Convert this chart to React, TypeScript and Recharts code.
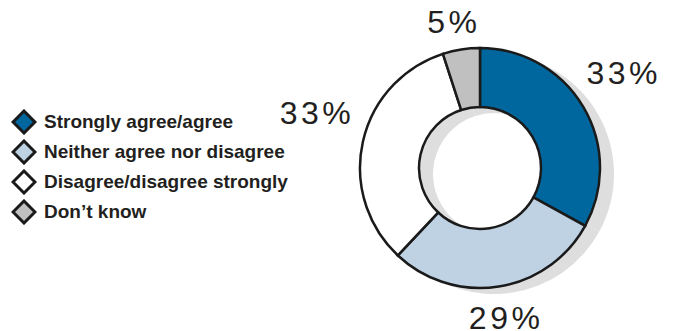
import { PieChart, Pie, Cell } from 'recharts';

const CATEGORIES = ['Strongly agree/agree', 'Neither agree nor disagree', 'Disagree/disagree strongly', 'Don\u2019t know'];
const VALUES = [33, 29, 33, 5];
const LABELS = ['33%', '29%', '33%', '5%'];
const COLORS = ['#00679e', '#bfd2e4', '#ffffff', '#c0c0c0'];

const data = CATEGORIES.map((name, i) => ({ name, value: VALUES[i], label: LABELS[i] }));

const RADIAN = Math.PI / 180;

// labels sit on a flattened ring outside the donut, side labels lifted a bit
const renderLabel = ({ cx, cy, midAngle, outerRadius, index }: any) => {
    const cos = Math.cos(-midAngle * RADIAN);
    const sin = Math.sin(-midAngle * RADIAN);
    const x = cx + (outerRadius + 47) * cos;
    const y = cy + 7 + (outerRadius + 30) * sin - 30 * Math.abs(cos);
    return (
        <text x={x} y={y} textAnchor="middle" dominantBaseline="central"
            fill="#231f20" fontSize={32} letterSpacing={3.5}
            fontFamily="'Liberation Sans', Arial, sans-serif">
            {LABELS[index]}
        </text>
    );
};

// diamond markers like the original legend
const LegendList = () => (
    <div style={{ fontFamily: "'Liberation Sans', Arial, sans-serif", fontWeight: 'bold', fontSize: 19, color: '#231f20' }}>
        {CATEGORIES.map((name, i) => (
            <div key={name} style={{ display: 'flex', alignItems: 'center', height: 30 }}>
                <svg width={26} height={26} style={{ marginRight: 7 }}>
                    <polygon points="13,2 24,13 13,24 2,13" fill={COLORS[i]} stroke="#1a1a1a" strokeWidth={3} strokeLinejoin="miter" />
                </svg>
                <span>{name}</span>
            </div>
        ))}
    </div>
);

export default function App() {
    return (
        <div style={{ position: 'absolute', left: 0, top: 0, width: 682, height: 331, background: '#fff' }}>
            <PieChart width={682} height={331} margin={{ top: 0, right: 0, bottom: 0, left: 0 }}>
                {/* drop shadow */}
                <Pie
                    data={data}
                    dataKey="value"
                    cx={494}
                    cy={174}
                    innerRadius={61}
                    outerRadius={120}
                    startAngle={90}
                    endAngle={-270}
                    stroke="none"
                    fill="#dedede"
                    legendType="none"
                    isAnimationActive={false}
                />
                <Pie
                    data={data}
                    dataKey="value"
                    cx={480}
                    cy={168}
                    innerRadius={61}
                    outerRadius={120}
                    startAngle={90}
                    endAngle={-270}
                    stroke="#1a1a1a"
                    strokeWidth={2.5}
                    label={renderLabel}
                    labelLine={false}
                    isAnimationActive={false}
                >
                    {data.map((entry, index) => (
                        <Cell key={`cell-${index}`} fill={COLORS[index]} />
                    ))}
                </Pie>
            </PieChart>
            <div style={{ position: 'absolute', left: 11, top: 107 }}>
                <LegendList />
            </div>
        </div>
    );
}
